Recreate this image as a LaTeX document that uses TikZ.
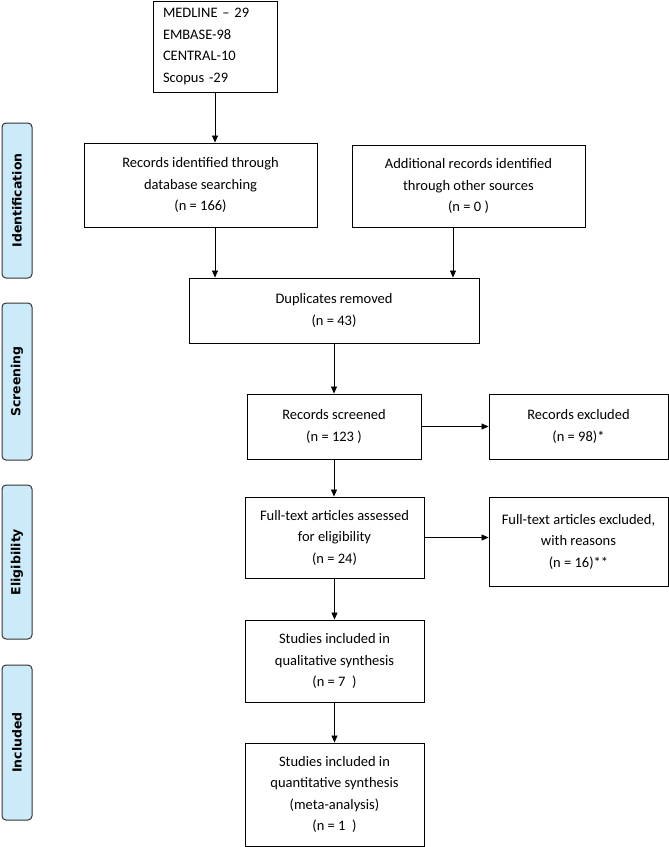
\documentclass[tikz,border=0pt]{standalone}
\usepackage{fontspec}
\setmainfont{Carlito}
\newfontfamily\phasefont{DejaVu Sans}
\usetikzlibrary{arrows.meta}
\definecolor{phasefill}{HTML}{CCEBFA}
\begin{document}
\begin{tikzpicture}[x=1pt,y=-1pt,
			every node/.style={draw,line width=0.9pt,inner sep=0pt,font=\fontsize{14.5}{21.5}\selectfont},
			box/.style={align=center,minimum width=#1},
			phase/.style={fill=phasefill,rounded corners=4pt,line width=1pt,draw=black!80,
				minimum height=30pt,minimum width=#1,font=\phasefont\fontsize{12.5}{14}\selectfont\bfseries},
			flow/.style={line width=0.8pt,-{Triangle[length=7pt,width=6pt]}},]
\useasboundingbox (0,0) rectangle (669,847);
\node[phase=155pt,rotate=90] (ident) at (17,200.5) {Identification};
\node[phase=157pt,rotate=90] (screen) at (17,381.5) {Screening};
\node[phase=154pt,rotate=90] (elig) at (17,562) {Eligibility};
\node[phase=155pt,rotate=90] (incl) at (17,742.5) {Included};
\node[align=left,text width=104pt,minimum height=91pt,inner xsep=10pt] (medline) at (215,46.5)
	{MEDLINE -- 29\\EMBASE-98\\CENTRAL-10\\Scopus -29};
\node[box=233pt,minimum height=84pt] (recid) at (200.5,185)
	{Records identified through\\database searching\\(n = 166)};
\node[box=233pt,minimum height=82pt] (addrec) at (468.5,186)
	{Additional records identified\\through other sources\\(n = 0 )};
\node[box=290pt,minimum height=65pt] (dup) at (334,310.5)
	{Duplicates removed\\(n = 43)};
\node[box=174pt,minimum height=65pt] (screened) at (334,426.5)
	{Records screened\\(n = 123 )};
\node[box=179pt,minimum height=65pt] (excl) at (578.5,426.5)
	{Records excluded\\(n = 98)*};
\node[box=179pt,minimum height=81pt] (fulltext) at (334.5,537.5)
	{Full-text articles assessed\\for eligibility\\(n = 24)};
\node[box=179pt,minimum height=89pt] (ftexcl) at (578.5,541.5)
	{Full-text articles excluded,\\with reasons\\(n = 16)**};
\node[box=179pt,minimum height=82pt] (qual) at (334.5,661)
	{Studies included in\\qualitative synthesis\\(n = 7\ \ )};
\node[box=179pt,minimum height=103pt] (quant) at (334.5,794.5)
	{Studies included in\\quantitative synthesis\\(meta-analysis)\\(n = 1\ \ )};
\draw[flow] (medline.south) -- (medline.south |- recid.north);
\draw[flow] (medline.south |- recid.south) -- (medline.south |- dup.north);
\draw[flow] ([xshift=-15.5pt]addrec.south) -- ([xshift=-15.5pt]addrec.south |- dup.north);
\draw[flow] (dup.south) -- (dup.south |- screened.north);
\draw[flow] (screened.east) -- (excl.west);
\draw[flow] (screened.south) -- (screened.south |- fulltext.north);
\draw[flow] (fulltext.east) -- (fulltext.east -| ftexcl.west);
\draw[flow] (fulltext.south) -- (qual.north);
\draw[flow] (qual.south) -- (quant.north);
\end{tikzpicture}
\end{document}
